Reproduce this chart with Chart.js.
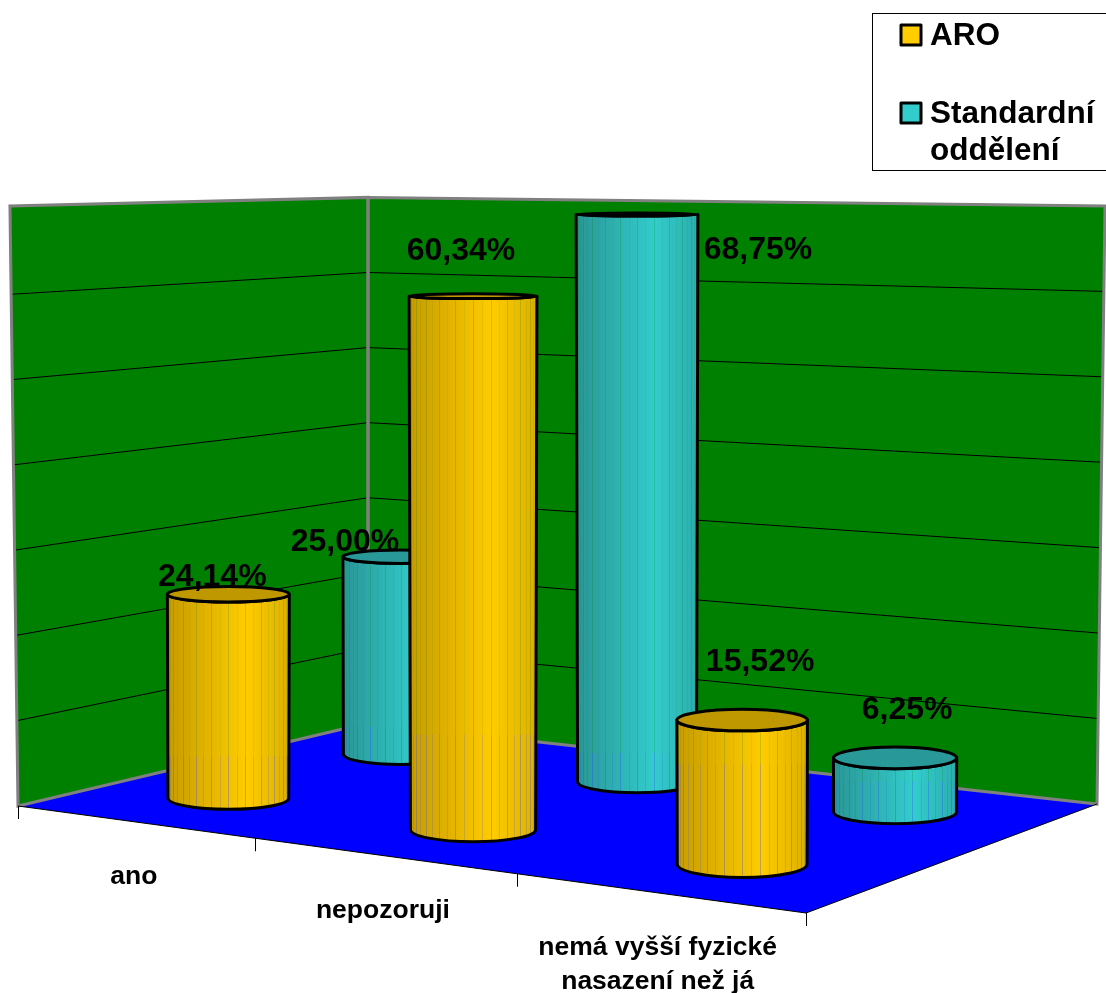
<!DOCTYPE html>
<html>
<head>
<meta charset="utf-8">
<title>ARO / Standardní oddělení</title>
<script src="https://cdn.jsdelivr.net/npm/chart.js@4/dist/chart.umd.min.js"></script>
<style>
  html, body { margin: 0; padding: 0; background: #fff; }
  canvas { display: block; }
</style>
</head>
<body>
<canvas id="myChart" width="1106" height="993"></canvas>
<script>
const categories = ["ano", "nepozoruji", ["nemá vyšší fyzické", "nasazení než já"]];
const aroValues = [24.14, 60.34, 15.52];
const standardValues = [25.0, 68.75, 6.25];
const seriesNames = ["ARO", ["Standardní", "oddělení"]];

const colors = {
  wall: "#008000",
  floor: "#0000ff",
  edge: "#808080",
  yellow: { dark: "#c79c00", mid: "#ffcc00", side: "#dcb000", cap: "#bf9800" },
  teal: { dark: "#2a9696", mid: "#33cccc", side: "#2caeae", cap: "#289898" },
};

// floor corners of the 3d box, unit square -> screen
const corner = {
  a: [18, 806],
  b: [806, 913],
  c: [1097, 804],
  d: [368, 723],
};
const wallHeight = 597;
const seriesDepth = [0.25, 0.755];

// homography coefficients for the floor
const floorMap = (() => {
  const [x0, y0] = corner.a, [x1, y1] = corner.b, [x2, y2] = corner.c, [x3, y3] = corner.d;
  const sx = x0 - x1 + x2 - x3, sy = y0 - y1 + y2 - y3;
  const dx1 = x1 - x2, dx2 = x3 - x2, dy1 = y1 - y2, dy2 = y3 - y2;
  const den = dx1 * dy2 - dx2 * dy1;
  const g = (sx * dy2 - dx2 * sy) / den;
  const h = (dx1 * sy - sx * dy1) / den;
  return {
    a: x1 - x0 + g * x1, b: x3 - x0 + h * x3, c: x0,
    d: y1 - y0 + g * y1, e: y3 - y0 + h * y3, f: y0,
    g, h,
  };
})();

// u along the category axis, v into the depth, f = share of the wall height
function project(u, v, f) {
  const m = floorMap;
  const w = m.g * u + m.h * v + 1;
  const x = (m.a * u + m.b * v + m.c) / w;
  const y = (m.d * u + m.e * v + m.f) / w;
  return { x, y: y - (wallHeight / w) * f, w };
}

// wall points also lean outwards towards the top, cylinders stay upright
function wallPoint(p, f) {
  const q = project(p[0], p[1], f);
  const back = corner.d[0];
  const lean = q.x < back ? 0.023 : 0.011;
  return { x: back + (q.x - back) * (1 + lean * f), y: q.y };
}

function backFloorY(x) {
  const [p, q] = x < corner.d[0] ? [corner.a, corner.d] : [corner.d, corner.c];
  return p[1] + ((q[1] - p[1]) * (x - p[0])) / (q[0] - p[0]);
}

function polygon(ctx, pts) {
  ctx.beginPath();
  pts.forEach((p, i) => (i ? ctx.lineTo(p.x, p.y) : ctx.moveTo(p.x, p.y)));
  ctx.closePath();
}

function segment(ctx, p, q) {
  ctx.beginPath();
  ctx.moveTo(p.x, p.y);
  ctx.lineTo(q.x, q.y);
  ctx.stroke();
}

function drawCylinder(chart, bar, seriesIndex, palette) {
  const ctx = chart.ctx;
  const xs = chart.scales.x, ys = chart.scales.y;
  const u = (bar.x - xs.left) / xs.width;
  const v = seriesDepth[seriesIndex];
  const f = ys.getValueForPixel(bar.y) / ys.max;
  const base = project(u, v, 0);
  const top = project(u, v, f);
  const r = bar.width / Math.pow(base.w, 0.75) / 2;
  const rTop = r * (1 + 0.025 * f);
  const flat = (y, rad) => Math.max(1.5, 2 * rad * (y - 170) * 0.00015);
  const ryBase = flat(base.y, r), ryTop = flat(top.y, rTop);

  const body = () => {
    ctx.beginPath();
    ctx.moveTo(base.x - rTop, top.y);
    ctx.lineTo(base.x - r, base.y);
    ctx.ellipse(base.x, base.y, r, ryBase, 0, Math.PI, 0, true);
    ctx.lineTo(base.x + rTop, top.y);
    ctx.ellipse(base.x, top.y, rTop, ryTop, 0, 0, Math.PI);
    ctx.closePath();
  };

  const grad = ctx.createLinearGradient(base.x - r, 0, base.x + r, 0);
  grad.addColorStop(0, palette.dark);
  grad.addColorStop(0.65, palette.mid);
  grad.addColorStop(1, palette.side);

  ctx.save();
  body();
  ctx.fillStyle = grad;
  ctx.fill();

  // seams between the facets, the background shows through them
  ctx.clip();
  const split = backFloorY(base.x);
  const facets = 22;
  for (let i = 1; i < facets; i++) {
    const x = Math.round(base.x + r * Math.sin((i / facets - 0.5) * Math.PI)) + 0.5;
    const alpha = i % 2 ? 0.2 : 0.08;
    ctx.lineWidth = 1;
    if (top.y < split) {
      ctx.strokeStyle = `rgba(0,128,0,${alpha})`;
      segment(ctx, { x, y: top.y }, { x, y: split });
    }
    ctx.strokeStyle = `rgba(40,70,255,${alpha + 0.1})`;
    segment(ctx, { x, y: Math.max(split, top.y) }, { x, y: base.y + ryBase });
  }
  ctx.restore();

  ctx.lineWidth = 3;
  ctx.lineJoin = "round";
  ctx.strokeStyle = "#000";
  body();
  ctx.stroke();
  ctx.beginPath();
  ctx.ellipse(base.x, top.y, rTop, ryTop, 0, 0, Math.PI * 2);
  ctx.fillStyle = palette.cap;
  ctx.fill();
  ctx.stroke();
}

class Cylinder3dController extends Chart.BarController {
  draw() {
    const ds = this.getDataset();
    this.getMeta().data.forEach((bar) => {
      drawCylinder(this.chart, bar, this.index, ds.palette);
    });
  }
}
Cylinder3dController.id = "cylinder3d";
Cylinder3dController.defaults = Chart.BarController.defaults;
Chart.register(Cylinder3dController);

// walls, floor, gridlines and the category axis
const boxPlugin = {
  id: "box",
  beforeDatasetsDraw(chart) {
    const ctx = chart.ctx;
    const xs = chart.scales.x, ys = chart.scales.y;
    const A = [0, 0], B = [1, 0], C = [1, 1], D = [0, 1];
    const at = wallPoint;
    const topA = at(A, 1);
    topA.y -= 3;

    ctx.save();
    ctx.fillStyle = colors.wall;
    polygon(ctx, [at(A, 0), at(D, 0), at(D, 1), topA]);
    ctx.fill();
    polygon(ctx, [at(D, 0), at(C, 0), at(C, 1), at(D, 1)]);
    ctx.fill();
    ctx.fillStyle = colors.floor;
    polygon(ctx, [at(A, 0), at(B, 0), at(C, 0), at(D, 0)]);
    ctx.fill();

    ctx.strokeStyle = "#000";
    ctx.lineWidth = 1;
    ys.ticks.forEach((t) => {
      const f = t.value / ys.max;
      if (f <= 0 || f >= 1) return;
      segment(ctx, at(A, f), at(D, f));
      segment(ctx, at(D, f), at(C, f));
    });

    ctx.strokeStyle = colors.edge;
    ctx.lineWidth = 3;
    ctx.lineJoin = "miter";
    polygon(ctx, [at(A, 0), at(D, 0), at(D, 1), topA]);
    ctx.stroke();
    polygon(ctx, [at(D, 0), at(C, 0), at(C, 1), at(D, 1)]);
    ctx.stroke();

    ctx.strokeStyle = "#000";
    ctx.lineWidth = 1;
    segment(ctx, at(A, 0), at(B, 0));
    segment(ctx, at(B, 0), at(C, 0));

    // ticks between categories, labels under the middle of each one
    const count = categories.length;
    for (let i = 0; i <= count; i++) {
      const p = project(i / count, 0, 0);
      const x = Math.round(p.x) + 0.5;
      segment(ctx, { x, y: p.y }, { x, y: p.y + 13 });
    }
    ctx.fillStyle = "#000";
    ctx.font = 'bold 26.5px "Liberation Sans", Arial, sans-serif';
    ctx.textAlign = "center";
    ctx.textBaseline = "middle";
    categories.forEach((_, i) => {
      const u = (xs.getPixelForValue(i) - xs.left) / xs.width;
      const p = project(u, 0, 0);
      [].concat(xs.getLabelForValue(i)).forEach((line, n) => {
        ctx.fillText(line, p.x, p.y + 55 + n * 34);
      });
    });
    ctx.restore();
  },
};

// label offsets from the top of each cylinder
const labelOffsets = [
  [[-16, -17], [-12, -45], [18, -58]],
  [[-56, -15], [121, 36], [12, -48]],
];

const valueLabelPlugin = {
  id: "valueLabels",
  afterDatasetsDraw(chart) {
    const ctx = chart.ctx;
    const xs = chart.scales.x, ys = chart.scales.y;
    ctx.save();
    ctx.fillStyle = "#000";
    ctx.font = 'bold 32px "Liberation Sans", Arial, sans-serif';
    ctx.textAlign = "center";
    ctx.textBaseline = "middle";
    chart.data.datasets.forEach((ds, si) => {
      chart.getDatasetMeta(si).data.forEach((bar, i) => {
        const u = (bar.x - xs.left) / xs.width;
        const top = project(u, seriesDepth[si], ys.getValueForPixel(bar.y) / ys.max);
        const text = ds.data[i].toFixed(2).replace(".", ",") + "%";
        ctx.fillText(text, top.x + labelOffsets[si][i][0], top.y + labelOffsets[si][i][1]);
      });
    });
    ctx.restore();
  },
};

const legendPlugin = {
  id: "boxLegend",
  afterDraw(chart) {
    const ctx = chart.ctx;
    ctx.save();
    ctx.fillStyle = "#fff";
    ctx.fillRect(872.5, 13.5, 240, 157);
    ctx.strokeStyle = "#000";
    ctx.lineWidth = 1;
    ctx.strokeRect(872.5, 13.5, 240, 157);

    ctx.font = 'bold 31.5px "Liberation Sans", Arial, sans-serif';
    ctx.textBaseline = "alphabetic";
    ctx.textAlign = "left";
    chart.data.datasets.forEach((ds, i) => {
      const y = 24 + i * 78;
      ctx.fillStyle = ds.palette.mid;
      ctx.strokeStyle = "#000";
      ctx.lineWidth = 3;
      ctx.lineJoin = "round";
      ctx.beginPath();
      ctx.rect(901, y + 1, 20, 20);
      ctx.fill();
      ctx.stroke();
      ctx.fillStyle = "#000";
      [].concat(ds.label).forEach((line, n) => {
        ctx.fillText(line, 930, y + 21 + n * 37);
      });
    });
    ctx.restore();
  },
};

new Chart(document.getElementById("myChart"), {
  type: "cylinder3d",
  data: {
    labels: categories,
    datasets: [
      { label: seriesNames[0], data: aroValues, palette: colors.yellow },
      { label: seriesNames[1], data: standardValues, palette: colors.teal },
    ],
  },
  options: {
    responsive: false,
    animation: false,
    grouped: false,
    categoryPercentage: 1,
    barPercentage: 0.333,
    layout: { padding: 0 },
    scales: {
      x: {
        type: "category",
        offset: true,
        ticks: { display: false },
        grid: { display: false },
        border: { display: false },
      },
      y: {
        type: "linear",
        min: 0,
        max: 70,
        ticks: { display: false, stepSize: 10 },
        grid: { display: false },
        border: { display: false },
      },
    },
    plugins: {
      legend: { display: false },
      tooltip: { enabled: false },
    },
  },
  plugins: [boxPlugin, valueLabelPlugin, legendPlugin],
});
</script>
</body>
</html>
